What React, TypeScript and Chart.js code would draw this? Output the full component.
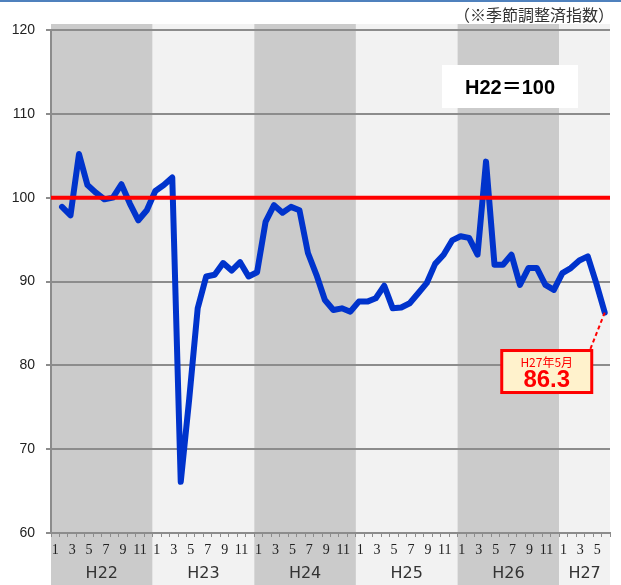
import { useEffect, useRef } from "react";
import { Chart, registerables } from "chart.js";

Chart.register(...registerables);

// ---- data ----
const YEARS = ["H22", "H23", "H24", "H25", "H26", "H27"];
const MONTHS_SHOWN = [12, 12, 12, 12, 12, 6];
const INDEX_H22 = [98.9, 97.9, 105.2, 101.5, 100.6, 99.8, 100.0, 101.6, 99.3, 97.3, 98.5, 100.8];
const INDEX_H23 = [101.5, 102.4, 66.1, 76.0, 86.8, 90.6, 90.8, 92.2, 91.3, 92.3, 90.6, 91.1];
const INDEX_H24 = [97.1, 99.1, 98.2, 98.9, 98.5, 93.4, 90.8, 87.8, 86.6, 86.8, 86.4, 87.6];
const INDEX_H25 = [87.6, 88.0, 89.5, 86.8, 86.9, 87.4, 88.6, 89.8, 92.1, 93.2, 94.9, 95.4];
const INDEX_H26 = [95.2, 93.2, 104.3, 92.0, 92.0, 93.2, 89.6, 91.6, 91.6, 89.6, 89.0, 91.0];
const INDEX_H27 = [91.6, 92.5, 93.0, 89.8, 86.3];
const BASE_VALUE = 100;
const Y_MIN = 60;
const Y_MAX = 120;
const Y_STEP = 10;
const NOTE_TEXT = "（※季節調整済指数）";
const BASE_TEXT = "H22＝100";
const LATEST_PERIOD = "H27年5月";

const SERIES = [...INDEX_H22, ...INDEX_H23, ...INDEX_H24, ...INDEX_H25, ...INDEX_H26, ...INDEX_H27];
const CATEGORY_MONTHS: number[] = [];
const CATEGORY_LABELS: string[] = [];
YEARS.forEach((y, k) => {
  for (let m = 1; m <= MONTHS_SHOWN[k]; m++) {
    CATEGORY_MONTHS.push(m);
    CATEGORY_LABELS.push(`${y}-${m}`);
  }
});
const YEAR_CENTERS: number[] = [];
{
  let s = 0;
  MONTHS_SHOWN.forEach((n) => {
    YEAR_CENTERS.push(s + (n - 1) / 2);
    s += n;
  });
}

const DARK = "#cbcbcb";
const LIGHT = "#f2f2f2";
const GRID = "#8c8c8c";

const decorPlugin = {
  id: "decor",
  beforeDraw(chart: any) {
    const { ctx, width, height, chartArea } = chart;
    ctx.save();
    ctx.fillStyle = "#ffffff";
    ctx.fillRect(0, 0, width, height);
    ctx.fillStyle = "#4f81bd";
    ctx.fillRect(0, 0, width, 2);
    const xs = chart.scales.yr;
    let start = 0;
    MONTHS_SHOWN.forEach((n, k) => {
      const x0 = xs.getPixelForValue(start - 0.5);
      const x1 = xs.getPixelForValue(start + n - 0.5);
      ctx.fillStyle = k % 2 === 0 ? DARK : LIGHT;
      ctx.fillRect(x0, chartArea.top - 6, x1 - x0, height - chartArea.top + 6);
      start += n;
    });
    ctx.fillStyle = "#333333";
    ctx.font = '16px "Noto Sans CJK JP"';
    ctx.textAlign = "right";
    ctx.textBaseline = "middle";
    ctx.fillText(NOTE_TEXT, 614, 15);
    ctx.restore();
  },
  afterDatasetsDraw(chart: any) {
    const { ctx, chartArea } = chart;
    const y = chart.scales.y.getPixelForValue(BASE_VALUE);
    ctx.save();
    ctx.strokeStyle = "#ff0000";
    ctx.lineWidth = 4;
    ctx.beginPath();
    ctx.moveTo(chartArea.left, y);
    ctx.lineTo(chartArea.right, y);
    ctx.stroke();
    ctx.restore();
  },
  afterDraw(chart: any) {
    const { ctx } = chart;
    ctx.save();
    // base box
    ctx.fillStyle = "#ffffff";
    ctx.fillRect(442, 65, 136, 43);
    ctx.fillStyle = "#000000";
    ctx.font = 'bold 20px "Liberation Sans", "Noto Sans CJK JP"';
    ctx.textAlign = "center";
    ctx.textBaseline = "middle";
    ctx.fillText(BASE_TEXT, 510, 88);

    // callout
    const meta = chart.getDatasetMeta(0);
    const pt = meta.data[meta.data.length - 1];
    const bx = pt.x - 103;
    const by = pt.y + 38;
    const bw = 90;
    const bh = 42;
    ctx.strokeStyle = "#ff0000";
    ctx.lineWidth = 2;
    ctx.setLineDash([4, 3]);
    ctx.beginPath();
    ctx.moveTo(pt.x, pt.y);
    ctx.lineTo(bx + bw - 2, by);
    ctx.stroke();
    ctx.setLineDash([]);
    ctx.fillStyle = "#fff2cc";
    ctx.fillRect(bx, by, bw, bh);
    ctx.lineWidth = 3;
    ctx.strokeRect(bx, by, bw, bh);
    ctx.fillStyle = "#ff0000";
    ctx.font = '12px "Noto Sans CJK JP"';
    ctx.fillText(LATEST_PERIOD, bx + bw / 2, by + 12);
    ctx.font = 'bold 24px "Liberation Sans"';
    const last = SERIES[SERIES.length - 1];
    ctx.fillText(last.toFixed(1), bx + bw / 2, by + 30);
    ctx.restore();
  },
};

export default function App() {
  const ref = useRef<HTMLCanvasElement | null>(null);
  useEffect(() => {
    if (!ref.current) return;
    const chart = new Chart(ref.current, {
      type: "line",
      data: {
        labels: CATEGORY_LABELS,
        datasets: [
          {
            data: SERIES.map((v, i) => ({ x: i, y: v })),
            xAxisID: "xLine",
            yAxisID: "y",
            borderColor: "#0033cc",
            borderWidth: 6,
            pointRadius: 0,
            tension: 0,
            borderJoinStyle: "round",
            borderCapStyle: "round",
          } as any,
        ],
      },
      options: {
        responsive: false,
        animation: false,
        events: [],
        layout: { padding: { left: 0, right: 11, top: 30, bottom: 0 } },
        plugins: { legend: { display: false }, tooltip: { enabled: false } },
        scales: {
          y: {
            position: "left",
            min: Y_MIN,
            max: Y_MAX,
            afterFit: (s: any) => {
              s.width = 51;
            },
            ticks: {
              stepSize: Y_STEP,
              padding: 11,
              color: "#222222",
              font: { family: '"Liberation Sans"', size: 14 },
            },
            grid: { color: GRID, lineWidth: 2, tickLength: 5, drawTicks: true },
            border: { display: true, color: GRID, width: 2 },
          },
          x: {
            type: "category",
            position: "bottom",
            weight: 0,
            offset: true,
            afterFit: (s: any) => {
              s.height = 30;
            },
            ticks: {
              autoSkip: false,
              maxRotation: 0,
              minRotation: 0,
              padding: 5,
              color: "#222222",
              font: { family: '"Liberation Serif"', size: 14 },
              callback: (_v: any, i: number) => {
                const m = CATEGORY_MONTHS[i];
                return m % 2 === 1 ? String(m) : "";
              },
            },
            grid: { drawOnChartArea: false, drawTicks: true, tickLength: 4, offset: true, color: GRID, lineWidth: 1 },
            border: { display: true, color: GRID, width: 2 },
          },
          yr: {
            type: "linear",
            position: "bottom",
            weight: 1,
            min: -0.5,
            max: CATEGORY_LABELS.length - 0.5,
            afterFit: (s: any) => {
              s.height = 22;
            },
            afterBuildTicks: (s: any) => {
              s.ticks = YEAR_CENTERS.map((v) => ({ value: v }));
            },
            ticks: {
              autoSkip: false,
              maxRotation: 0,
              minRotation: 0,
              padding: 1,
              color: "#333333",
              font: { family: '"DejaVu Sans"', size: 16 },
              callback: (_v: any, i: number) => YEARS[i],
            },
            grid: { display: false, drawTicks: false },
            border: { display: false },
          },
          xLine: {
            type: "linear",
            display: false,
            min: -1.3,
            max: 64.62,
          },
        },
      } as any,
      plugins: [decorPlugin],
    });
    return () => chart.destroy();
  }, []);
  return (
    <div style={{ position: "absolute", left: 0, top: 0, width: 621, height: 585 }}>
      <canvas ref={ref} width={621} height={585} style={{ display: "block" }} />
    </div>
  );
}
